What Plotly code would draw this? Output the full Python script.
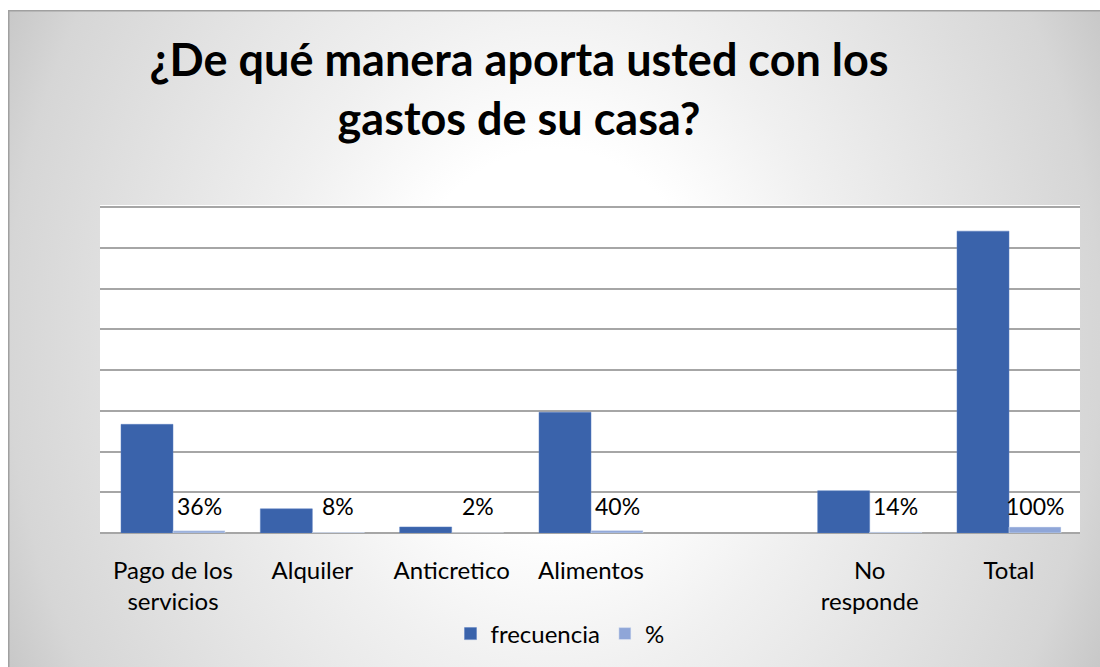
import base64
import plotly.graph_objects as go

# ---- data ----
categories = ["Pago de los<br>servicios", "Alquiler", "Anticretico", "Alimentos", " ", "No<br>responde", "Total"]
frecuencia = [18, 4, 1, 20, None, 7, 50]
porcentaje = [0.36, 0.08, 0.02, 0.40, None, 0.14, 1.00]
porcentaje_labels = ["36%", "8%", "2%", "40%", "", "14%", "100%"]

title_text = "¿De qué manera aporta usted con los<br>gastos de su casa?"

# ---- layout geometry (page coordinates, body margin removed) ----
W, H = 1100, 667
PLOT_L, PLOT_R = 100, 1080
BASE_Y, TOPGRID_Y = 533, 207
AX_MAX_GRID, AX_DTICK = 54, 6.75
MT = 205
ML, MR, MB = PLOT_L, W - PLOT_R, H - BASE_Y
PW, PH = PLOT_R - PLOT_L, BASE_Y - MT
px_per_unit = (BASE_Y - TOPGRID_Y) / AX_MAX_GRID
y_top = PH / px_per_unit

# category placement: first group centred at x=173, last at x=1009
CAT0_X, CAT6_X = 173, 1009
px_per_cat = (CAT6_X - CAT0_X) / 6
x_range = [-(CAT0_X - PLOT_L) / px_per_cat, 6 + (PLOT_R - CAT6_X) / px_per_cat]
BAR_W = 52
bargap = 1 - 2 * BAR_W / px_per_cat

# background: radial grey gradient with thin frame (top / left)
bx0, by0 = 8, 10
bw, bh = W - bx0, H - by0
svg = f'''<svg xmlns="http://www.w3.org/2000/svg" width="{bw}" height="{bh}" viewBox="0 0 {bw} {bh}" preserveAspectRatio="none">
<defs><radialGradient id="g" cx="0.5" cy="0.5" r="0.575" gradientTransform="translate(0.5,0.5) scale(1,2) translate(-0.5,-0.5)">
<stop offset="0" stop-color="#ffffff"/>
<stop offset="0.25" stop-color="#ffffff"/>
<stop offset="0.45" stop-color="#f0f0f0"/>
<stop offset="0.87" stop-color="#d6d6d6"/>
<stop offset="1" stop-color="#c4c4c4"/>
</radialGradient></defs>
<rect x="0" y="0" width="{bw}" height="{bh}" fill="url(#g)"/>
<line x1="0" y1="0.75" x2="{bw}" y2="0.75" stroke="#a0a0a0" stroke-width="1.5"/>
<line x1="0.75" y1="0" x2="0.75" y2="{bh}" stroke="#a0a0a0" stroke-width="1.5"/>
</svg>'''
src = "data:image/svg+xml;base64," + base64.b64encode(svg.encode()).decode()

FONT = "Lato, 'Open Sans', sans-serif"

fig = go.Figure()
fig.add_trace(go.Bar(
    x=categories, y=frecuencia, name="frecuencia",
    marker=dict(color="#3a63ab", line=dict(color="#5b7fc0", width=0.5)),
))
fig.add_trace(go.Bar(
    x=categories, y=porcentaje, name="%",
    marker=dict(color="#8fa6d8"),
))

# data labels of the "%" series (placed on the second bar of each group)
for cat, lab in zip(categories, porcentaje_labels):
    if lab:
        fig.add_annotation(
            x=cat, y=0, xref="x", yref="y", text=lab, showarrow=False,
            xanchor="center", yanchor="bottom", xshift=BAR_W / 2, yshift=11,
            font=dict(size=23, color="#000000", family=FONT),
        )

fig.update_layout(
    width=W, height=H,
    margin=dict(l=ML, r=MR, t=MT, b=MB, autoexpand=False),
    paper_bgcolor="#ffffff",
    plot_bgcolor="#ffffff",
    barmode="group", bargap=bargap, bargroupgap=0,
    font=dict(family=FONT, size=24, color="#000000"),
    title=dict(
        text=title_text, x=(519 - ML) / PW, xanchor="center", xref="paper",
        y=1 - 76 / H, yanchor="middle", yref="container",
        font=dict(size=45, family="Lato, sans-serif", color="#000000", weight="bold"),
    ),
    showlegend=True,
    legend=dict(
        orientation="h", x=(560 - ML) / PW, xanchor="center",
        y=(BASE_Y - 634) / PH, yanchor="middle",
        font=dict(size=24, family=FONT), bgcolor="rgba(0,0,0,0)",
        itemwidth=30,
    ),
    images=[dict(
        source=src, xref="paper", yref="paper",
        x=(bx0 - ML) / PW, y=(BASE_Y - by0) / PH,
        sizex=bw / PW, sizey=bh / PH,
        xanchor="left", yanchor="top", sizing="stretch", layer="below",
    )],
    shapes=[dict(
        type="rect", xref="paper", yref="paper", x0=0, x1=1, y0=0, y1=1,
        fillcolor="#ffffff", line=dict(width=0), layer="below",
    )],
)

fig.update_xaxes(
    type="category", range=x_range, showline=False, showgrid=False,
    ticks="outside", ticklen=16, tickcolor="rgba(0,0,0,0)",
    tickfont=dict(size=24, family=FONT, color="#000000"),
)
fig.update_yaxes(
    range=[0, y_top], dtick=AX_DTICK, tick0=0,
    showticklabels=False, showline=False,
    showgrid=True, gridcolor="#a6a6a6", gridwidth=1.5,
    zeroline=True, zerolinecolor="#a6a6a6", zerolinewidth=1.5,
)

fig.write_html(
    "out.html",
    config={"displayModeBar": False},
    post_script="document.body.style.margin='0';document.body.style.overflow='hidden';",
)
